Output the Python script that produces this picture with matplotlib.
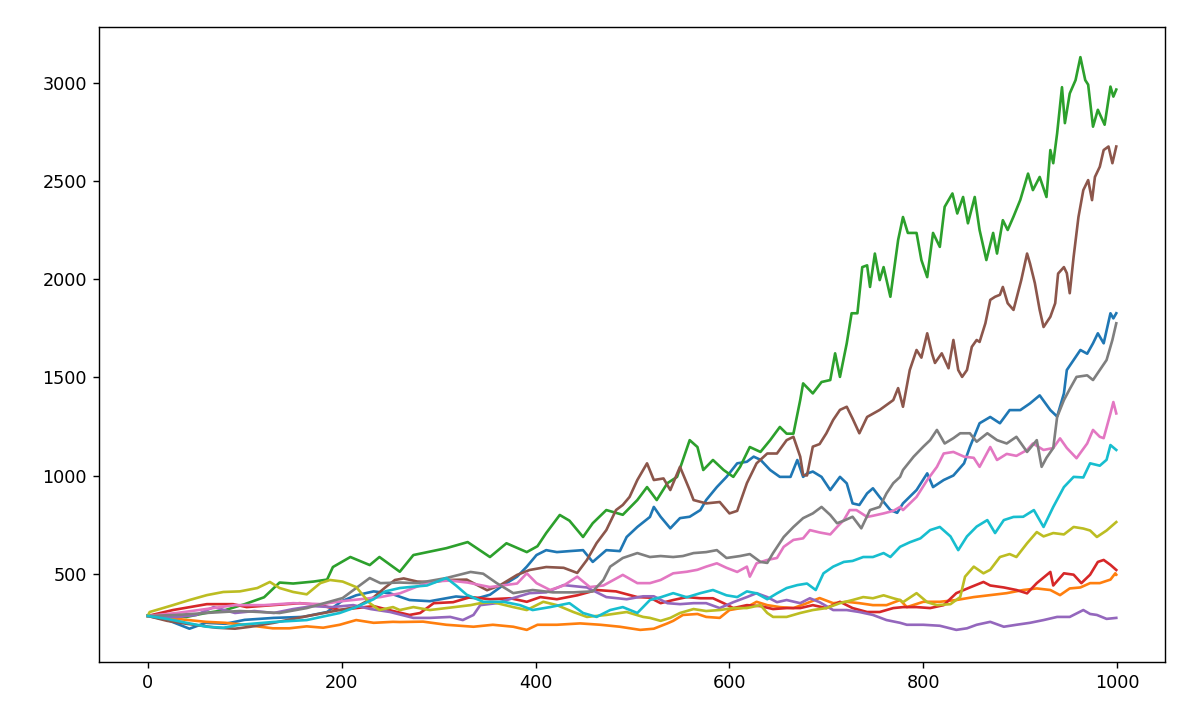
import matplotlib
matplotlib.use("Agg")
import matplotlib.pyplot as plt

# ---- data (step index, value) ----
blue_x = [0, 20, 43, 60, 80, 100, 130, 160, 185, 200, 215, 233, 250, 270, 291, 318, 340, 353, 367, 381, 391, 401, 411, 422, 435, 449, 459, 473, 487, 494, 505, 518, 522, 529, 539, 549, 559, 570, 576, 587, 597, 608, 618, 625, 632, 642, 652, 663, 670, 676, 680, 686, 695, 704, 714, 721, 727, 734, 742, 748, 755, 766, 773, 779, 793, 804, 810, 821, 831, 842, 848, 858, 869, 879, 889, 900, 910, 920, 931, 938, 945, 948, 955, 962, 969, 975, 980, 986, 993, 996, 999]
blue_y = [285, 265, 220, 250, 245, 265, 275, 280, 305, 360, 390, 410, 400, 366, 360, 384, 375, 393, 443, 485, 536, 595, 620, 610, 615, 620, 560, 620, 615, 687, 738, 789, 840, 790, 731, 783, 790, 824, 875, 941, 993, 1062, 1070, 1096, 1080, 1028, 993, 993, 1079, 993, 1010, 1020, 993, 926, 993, 960, 858, 850, 909, 935, 890, 824, 810, 858, 926, 1011, 941, 977, 1000, 1062, 1145, 1266, 1298, 1266, 1333, 1333, 1367, 1408, 1333, 1300, 1418, 1537, 1588, 1639, 1620, 1673, 1724, 1673, 1826, 1800, 1826]

orange_x = [0, 20, 40, 60, 80, 100, 129, 146, 164, 181, 198, 215, 233, 253, 260, 284, 308, 336, 356, 377, 391, 402, 422, 446, 467, 487, 508, 522, 536, 542, 552, 567, 576, 590, 600, 618, 628, 639, 652, 666, 680, 693, 707, 721, 734, 748, 762, 776, 783, 800, 817, 834, 852, 869, 886, 903, 917, 931, 941, 951, 962, 972, 982, 993, 998, 999]
orange_y = [285, 275, 265, 255, 250, 240, 222, 222, 232, 225, 240, 264, 250, 255, 254, 256, 240, 230, 240, 230, 214, 240, 240, 247, 240, 230, 214, 220, 247, 260, 290, 295, 280, 275, 315, 330, 357, 340, 330, 325, 350, 376, 350, 357, 350, 340, 340, 366, 330, 357, 357, 366, 381, 391, 401, 417, 425, 417, 391, 425, 430, 452, 452, 470, 502, 495]

green_x = [0, 20, 40, 60, 80, 100, 120, 136, 150, 171, 185, 191, 209, 229, 239, 260, 274, 308, 330, 353, 370, 391, 402, 411, 425, 435, 449, 459, 473, 490, 505, 515, 525, 536, 546, 559, 567, 573, 583, 594, 604, 611, 621, 632, 642, 652, 659, 666, 673, 676, 686, 695, 704, 709, 714, 721, 726, 732, 737, 742, 745, 750, 755, 759, 766, 774, 779, 784, 793, 798, 804, 810, 817, 822, 830, 835, 841, 846, 853, 858, 865, 872, 876, 882, 887, 893, 900, 908, 913, 920, 927, 931, 934, 938, 943, 946, 951, 957, 962, 967, 970, 975, 980, 987, 993, 996, 999]
green_y = [285, 290, 280, 300, 315, 345, 380, 455, 450, 460, 470, 534, 585, 544, 585, 510, 595, 630, 661, 585, 655, 610, 640, 707, 799, 770, 687, 757, 824, 800, 875, 941, 875, 961, 993, 1180, 1145, 1028, 1079, 1028, 993, 1044, 1145, 1120, 1180, 1247, 1213, 1213, 1384, 1469, 1418, 1476, 1486, 1622, 1502, 1673, 1826, 1826, 2061, 2070, 1960, 2130, 1995, 2061, 1910, 2199, 2316, 2235, 2235, 2097, 2010, 2235, 2164, 2368, 2436, 2334, 2418, 2284, 2418, 2250, 2097, 2235, 2130, 2300, 2250, 2318, 2403, 2537, 2453, 2520, 2418, 2657, 2590, 2742, 2977, 2794, 2945, 3013, 3130, 3013, 2990, 2776, 2862, 2786, 2980, 2929, 2965]

red_x = [0, 26, 61, 88, 102, 129, 157, 178, 198, 215, 233, 253, 270, 281, 295, 315, 333, 353, 374, 391, 405, 422, 443, 463, 483, 505, 518, 529, 542, 556, 570, 583, 594, 604, 618, 632, 645, 659, 673, 686, 700, 714, 727, 742, 755, 769, 779, 793, 807, 821, 834, 848, 862, 869, 883, 896, 907, 917, 931, 934, 945, 955, 963, 972, 980, 986, 993, 999]
red_y = [285, 315, 345, 345, 330, 340, 350, 340, 315, 325, 335, 310, 290, 300, 350, 355, 381, 370, 375, 357, 381, 370, 390, 417, 410, 381, 378, 350, 366, 381, 375, 375, 350, 325, 340, 335, 320, 325, 325, 340, 325, 357, 325, 305, 305, 325, 330, 330, 325, 340, 401, 430, 458, 440, 430, 417, 400, 452, 509, 440, 502, 495, 452, 495, 560, 570, 545, 519]

purple_x = [0, 30, 50, 68, 90, 110, 130, 150, 170, 190, 212, 230, 250, 274, 291, 312, 325, 336, 343, 360, 377, 394, 411, 429, 453, 473, 494, 511, 522, 536, 549, 563, 576, 590, 604, 618, 628, 639, 649, 659, 673, 683, 693, 707, 721, 734, 748, 762, 776, 783, 800, 817, 834, 845, 855, 869, 883, 896, 910, 924, 938, 951, 965, 972, 979, 989, 999]
purple_y = [285, 280, 290, 330, 300, 310, 300, 320, 335, 330, 340, 320, 305, 275, 275, 280, 264, 290, 340, 350, 376, 401, 405, 442, 430, 381, 370, 385, 385, 350, 345, 350, 350, 325, 355, 381, 401, 381, 355, 366, 350, 375, 355, 315, 315, 305, 290, 264, 250, 240, 240, 235, 214, 222, 240, 255, 230, 240, 250, 264, 280, 280, 315, 295, 290, 270, 275]

brown_x = [0, 20, 40, 71, 90, 106, 130, 160, 198, 215, 233, 245, 255, 264, 278, 295, 308, 329, 350, 363, 381, 394, 411, 429, 443, 453, 463, 473, 483, 490, 497, 505, 511, 515, 522, 532, 539, 549, 559, 563, 576, 590, 600, 608, 618, 628, 639, 649, 659, 666, 673, 676, 680, 686, 693, 700, 707, 714, 721, 727, 734, 742, 755, 769, 774, 779, 786, 793, 798, 804, 809, 812, 819, 826, 831, 836, 840, 845, 850, 855, 858, 864, 869, 874, 879, 882, 887, 893, 896, 901, 907, 910, 915, 920, 924, 931, 936, 939, 945, 948, 951, 955, 960, 965, 970, 974, 977, 982, 986, 991, 995, 999]
brown_y = [285, 260, 245, 225, 220, 230, 250, 280, 315, 330, 380, 430, 468, 476, 460, 457, 468, 470, 416, 440, 494, 519, 534, 530, 504, 570, 656, 722, 824, 850, 891, 977, 1028, 1062, 977, 985, 926, 1044, 926, 875, 858, 865, 807, 820, 961, 1062, 1112, 1112, 1180, 1197, 1096, 1003, 1000, 1147, 1160, 1215, 1283, 1334, 1350, 1290, 1215, 1298, 1334, 1384, 1445, 1350, 1537, 1639, 1600, 1724, 1620, 1573, 1622, 1546, 1690, 1537, 1502, 1537, 1655, 1690, 1680, 1775, 1894, 1910, 1920, 1960, 1877, 1843, 1900, 1995, 2130, 2080, 1980, 1843, 1756, 1808, 1877, 2028, 2061, 2030, 1928, 2113, 2316, 2453, 2504, 2402, 2520, 2572, 2657, 2675, 2590, 2675]

pink_x = [0, 30, 60, 90, 120, 150, 180, 200, 240, 260, 291, 312, 330, 353, 381, 391, 401, 415, 429, 443, 456, 470, 490, 505, 518, 529, 542, 556, 567, 576, 587, 597, 608, 618, 621, 628, 639, 649, 656, 666, 676, 683, 693, 704, 711, 718, 724, 731, 742, 748, 759, 769, 776, 779, 793, 804, 814, 821, 831, 842, 852, 858, 869, 876, 886, 896, 907, 913, 924, 934, 941, 948, 958, 969, 975, 982, 986, 993, 996, 999]
pink_y = [285, 300, 320, 340, 340, 350, 345, 360, 381, 400, 460, 465, 455, 432, 450, 502, 452, 417, 440, 485, 432, 440, 494, 452, 452, 468, 502, 510, 520, 536, 553, 530, 509, 536, 485, 553, 570, 580, 637, 672, 680, 722, 710, 700, 738, 773, 824, 824, 789, 795, 807, 820, 840, 824, 891, 977, 1044, 1112, 1120, 1096, 1090, 1044, 1145, 1079, 1110, 1100, 1130, 1163, 1130, 1140, 1189, 1140, 1088, 1163, 1232, 1197, 1190, 1316, 1374, 1316]

gray_x = [0, 30, 60, 95, 136, 164, 201, 229, 240, 260, 278, 308, 333, 346, 360, 377, 397, 418, 439, 459, 470, 477, 490, 505, 518, 529, 542, 552, 563, 576, 587, 597, 611, 621, 632, 639, 645, 656, 666, 676, 686, 695, 704, 711, 718, 727, 736, 745, 755, 762, 769, 776, 779, 790, 800, 807, 814, 822, 831, 838, 848, 855, 866, 876, 886, 896, 907, 917, 922, 927, 934, 938, 945, 951, 958, 969, 975, 982, 989, 995, 999]
gray_y = [285, 290, 300, 310, 300, 325, 376, 478, 452, 455, 452, 478, 509, 500, 452, 401, 417, 405, 405, 410, 468, 536, 580, 605, 585, 590, 585, 590, 605, 610, 620, 580, 590, 600, 560, 555, 605, 687, 738, 783, 807, 840, 799, 757, 770, 790, 731, 824, 840, 909, 961, 993, 1028, 1096, 1147, 1180, 1232, 1163, 1190, 1215, 1215, 1172, 1215, 1180, 1163, 1197, 1120, 1180, 1044, 1090, 1140, 1298, 1384, 1440, 1502, 1510, 1486, 1537, 1588, 1690, 1775]

olive_x = [0, 2, 26, 43, 61, 78, 95, 113, 126, 136, 150, 164, 178, 188, 201, 215, 229, 239, 253, 260, 274, 291, 308, 333, 343, 356, 377, 391, 408, 422, 439, 453, 473, 494, 511, 518, 529, 539, 549, 563, 576, 590, 604, 618, 632, 639, 645, 659, 673, 686, 700, 714, 727, 738, 748, 759, 769, 776, 779, 793, 804, 814, 828, 838, 843, 852, 862, 869, 879, 889, 896, 907, 917, 924, 934, 945, 955, 965, 972, 979, 989, 999]
olive_y = [285, 305, 340, 366, 391, 407, 410, 427, 458, 427, 407, 395, 452, 468, 460, 432, 350, 315, 330, 315, 330, 315, 325, 340, 350, 355, 330, 315, 357, 340, 305, 280, 290, 305, 280, 275, 260, 275, 300, 320, 310, 315, 325, 325, 340, 300, 280, 280, 300, 315, 325, 350, 366, 381, 375, 390, 375, 366, 355, 401, 355, 340, 345, 381, 485, 536, 502, 520, 585, 600, 585, 655, 712, 690, 707, 700, 738, 730, 720, 687, 720, 763]

cyan_x = [0, 20, 40, 61, 78, 95, 129, 164, 198, 215, 233, 245, 260, 270, 288, 308, 318, 329, 346, 367, 384, 397, 415, 435, 449, 463, 477, 490, 505, 518, 529, 542, 556, 570, 583, 597, 608, 618, 628, 639, 649, 659, 670, 680, 689, 697, 707, 718, 727, 738, 748, 759, 766, 776, 786, 797, 807, 817, 828, 836, 845, 855, 866, 874, 883, 893, 903, 914, 924, 934, 945, 955, 965, 972, 982, 989, 993, 999]
cyan_y = [285, 270, 250, 230, 225, 240, 254, 264, 300, 330, 370, 410, 427, 432, 440, 478, 440, 393, 357, 357, 340, 315, 330, 350, 300, 280, 315, 330, 300, 366, 380, 401, 380, 401, 417, 390, 381, 410, 400, 370, 400, 427, 442, 450, 417, 502, 536, 560, 565, 585, 585, 605, 585, 637, 660, 680, 722, 738, 690, 620, 690, 740, 773, 707, 773, 789, 790, 824, 738, 840, 941, 993, 990, 1062, 1050, 1080, 1155, 1130]

series = [
    (blue_x, blue_y), (orange_x, orange_y), (green_x, green_y),
    (red_x, red_y), (purple_x, purple_y), (brown_x, brown_y),
    (pink_x, pink_y), (gray_x, gray_y), (olive_x, olive_y),
    (cyan_x, cyan_y),
]

DPI = 127
fig = plt.figure(figsize=(1187 / DPI, 705 / DPI), dpi=DPI)
ax = fig.add_axes([99.3 / 1187, 1 - 661.7 / 705, (1164.7 - 99.3) / 1187, (661.7 - 26.7) / 705])

for xs, ys in series:
    ax.plot(xs, ys)

ax.set_xlim(-49.95, 1048.95)
ax.set_ylim(52, 3285)

fig.savefig("out.png", dpi=DPI)
